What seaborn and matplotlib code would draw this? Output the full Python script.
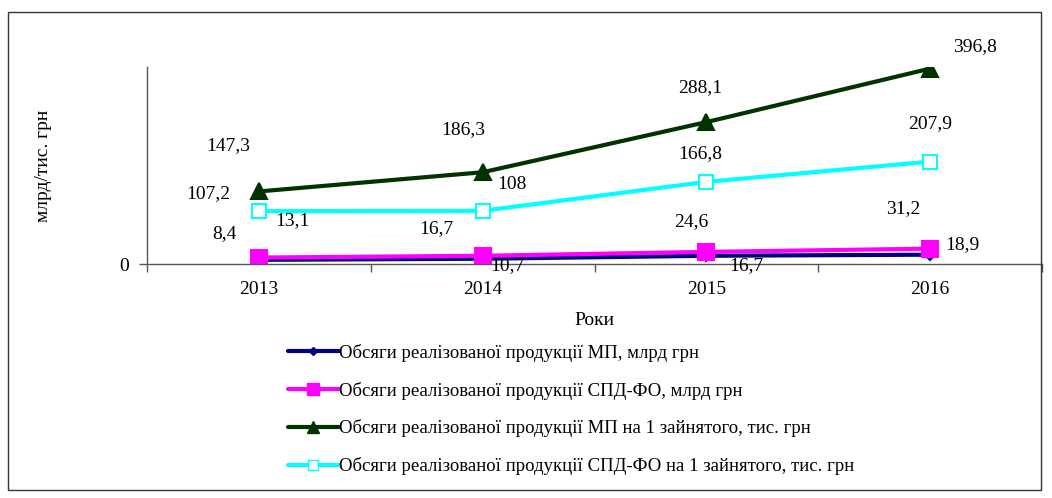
import numpy as np
import pandas as pd
import seaborn as sns
import matplotlib
matplotlib.use('Agg')
from matplotlib import pyplot as plt
from matplotlib.patches import Rectangle
from matplotlib.lines import Line2D

sns.set_style('white')
plt.rcParams['font.family'] = ['Liberation Serif', 'DejaVu Serif']
plt.rcParams['text.color'] = 'black'
plt.rcParams['axes.labelcolor'] = 'black'
plt.rcParams['xtick.color'] = 'black'
plt.rcParams['ytick.color'] = 'black'

# data
years = ['2013', '2014', '2015', '2016']
mp_bln = [8.4, 10.7, 16.7, 18.9]
spd_bln = [13.1, 16.7, 24.6, 31.2]
mp_per_worker = [147.3, 186.3, 288.1, 396.8]
spd_per_worker = [107.2, 108, 166.8, 207.9]

labels = ['Обсяги реалізованої продукції МП, млрд грн',
          'Обсяги реалізованої продукції СПД-ФО, млрд грн',
          'Обсяги реалізованої продукції МП на 1 зайнятого, тис. грн',
          'Обсяги реалізованої продукції СПД-ФО на 1 зайнятого, тис. грн']

# styles
colors = ['#000080', '#FF00FF', '#003300', '#00FFFF']
markers = ['D', 's', '^', 's']
msizes = [5, 11, 11, 10]
mfaces = ['#000080', '#FF00FF', '#003300', 'white']
# label offsets in pixels (dx, dy up)
offsets = [
    [(-34, 26), (25, -7), (40, -10), (32, 10)],
    [(34, 37), (-46, 27), (-15, 30), (-27, 40)],
    [(-31, 46), (-19, 43), (-6, 35), (45, 22)],
    [(-51, 18), (29, 26), (-6, 28), (0, 38)],
]

series = [mp_bln, spd_bln, mp_per_worker, spd_per_worker]

fig = plt.figure(figsize=(10.52, 4.98), dpi=100)
ax = fig.add_axes([147/1052, 1-264/498, (1042-147)/1052, (264-67)/498])

x = np.arange(len(years))
for i, vals in enumerate(series):
    sns.lineplot(x=x, y=vals, ax=ax, color=colors[i], lw=3, marker=markers[i],
                 markersize=msizes[i], markerfacecolor=mfaces[i],
                 markeredgecolor=colors[i], markeredgewidth=1.5)
    for j, v in enumerate(vals):
        txt = f'{v:g}'.replace('.', ',')
        ax.annotate(txt, (x[j], v), xytext=offsets[i][j], textcoords='offset pixels',
                    ha='center', va='center', fontsize=14)

ax.set_xlim(-0.5, 3.5)
ax.set_ylim(0, 400)
ax.set_yticks([0])
ax.set_yticklabels(['0'], fontsize=14)
ax.set_xticks([-0.5, 0.5, 1.5, 2.5, 3.5])
ax.set_xticklabels([])
ax.set_xticks(x, minor=True)
ax.set_xticklabels(years, minor=True, fontsize=14)
ax.tick_params(axis='both', which='major', direction='out', length=6, width=1,
               color='#555555', bottom=True, left=True)
ax.tick_params(axis='x', which='minor', length=0, pad=12, bottom=True)
ax.tick_params(axis='y', pad=7)
for s in ['top', 'right']:
    ax.spines[s].set_visible(False)
for s in ['left', 'bottom']:
    ax.spines[s].set_color('#555555')
    ax.spines[s].set_linewidth(1)
ax.set_xlabel('Роки', fontsize=14, labelpad=10)
ax.set_ylabel('млрд/тис. грн', fontsize=14)
ax.yaxis.set_label_coords(-0.106, 0.5)

handles = [Line2D([0], [0], color=colors[i], lw=3, marker=markers[i],
                  markersize=msizes[i] * 0.75, markerfacecolor=mfaces[i],
                  markeredgecolor=colors[i]) for i in range(4)]
fig.legend(handles, labels, loc='upper left', bbox_to_anchor=(288/1052, 1-344/498),
           frameon=False, fontsize=13.5, handlelength=2.7, handletextpad=0,
           labelspacing=1.05, borderpad=0, borderaxespad=0)

fig.patches.append(Rectangle((8/1052, 1-490/498), (1041-8)/1052, (490-12)/498,
                             transform=fig.transFigure, fill=False,
                             edgecolor='#333333', lw=1))

fig.savefig('out.png', dpi=100)
